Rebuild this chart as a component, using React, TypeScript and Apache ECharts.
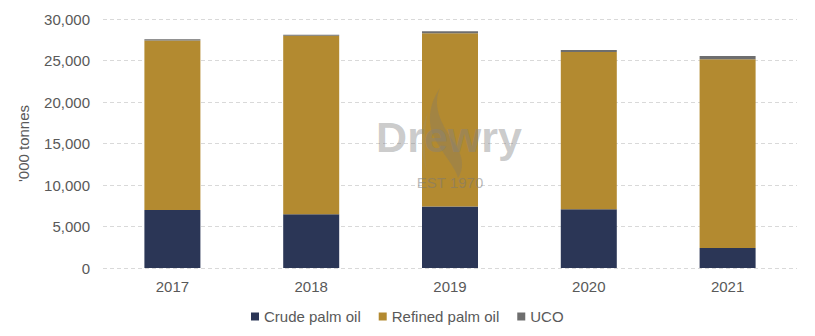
import React, { useEffect, useRef } from "react";
import * as echarts from "echarts";

const categories = ["2017", "2018", "2019", "2020", "2021"];
const crudePalmOil = [7000, 6480, 7400, 7080, 2410];
const refinedPalmOil = [20400, 21510, 20870, 18940, 22730];
const uco = [150, 100, 250, 250, 400];
const yTicks = { min: 0, max: 30000, interval: 5000 };

const FONT = "'Liberation Sans', Arial, Helvetica, sans-serif";
const TEXT = "#595959";

const flameD =
  "M440 88 C431 108 444 128 455 144 C465 159 463 171 458 178 C455 166 441 152 434 137 C426 119 431 101 440 88 Z";
const flameD2 =
  "M428 112 C420 128 420 152 427 172 C424 152 424 130 428 112 Z";

let registered = false;
function registerShapes() {
  if (registered) return;
  echarts.graphic.registerShape("flame", echarts.graphic.extendPath(flameD, {}));
  echarts.graphic.registerShape("flame2", echarts.graphic.extendPath(flameD2, {}));
  registered = true;
}

export default function App() {
  const ref = useRef<HTMLDivElement>(null);
  useEffect(() => {
    if (!ref.current) return;
    registerShapes();
    const chart = echarts.init(ref.current, null, { renderer: "svg" });
    chart.setOption({
      animation: false,
      backgroundColor: "#ffffff",
      grid: { left: 103, right: 18, top: 19, bottom: 68, containLabel: false },
      legend: {
        left: 246,
        top: 304,
        icon: "rect",
        itemWidth: 8,
        itemHeight: 8,
        itemGap: 18,
        textStyle: { fontFamily: FONT, fontSize: 15, color: TEXT },
        data: ["Crude palm oil", "Refined palm oil", "UCO"],
      },
      xAxis: {
        type: "category",
        data: categories,
        axisLine: { show: false },
        axisTick: { show: false },
        axisLabel: { fontFamily: FONT, fontSize: 15, color: TEXT, margin: 11 },
      },
      yAxis: {
        type: "value",
        min: yTicks.min,
        max: yTicks.max,
        interval: yTicks.interval,
        name: "'000 tonnes",
        nameLocation: "middle",
        nameGap: 72,
        nameTextStyle: { fontFamily: FONT, fontSize: 15, color: TEXT },
        axisLine: { show: false },
        axisTick: { show: false },
        axisLabel: {
          fontFamily: FONT,
          fontSize: 15,
          color: TEXT,
          margin: 13,
          formatter: (v: number) => v.toLocaleString("en-US"),
        },
        splitLine: {
          lineStyle: { color: "#D9D9D9", width: 1, type: [4, 3] },
        },
      },
      series: [
        {
          name: "Crude palm oil",
          type: "bar",
          stack: "total",
          barWidth: 56,
          data: crudePalmOil,
          itemStyle: { color: "#2B3656" },
        },
        {
          name: "Refined palm oil",
          type: "bar",
          stack: "total",
          barWidth: 56,
          data: refinedPalmOil,
          itemStyle: { color: "#B38A30" },
        },
        {
          name: "UCO",
          type: "bar",
          stack: "total",
          barWidth: 56,
          data: uco,
          itemStyle: { color: "#6E6E6E" },
        },
      ],
      graphic: [
        {
          type: "flame",
          x: 0,
          y: 0,
          z: 100,
          silent: true,
          style: { fill: "rgba(120,120,120,0.28)" },
        },
        {
          type: "flame2",
          x: 0,
          y: 0,
          z: 100,
          silent: true,
          style: { fill: "rgba(150,150,150,0.18)" },
        },
        {
          type: "text",
          x: 449,
          y: 137,
          z: 101,
          silent: true,
          style: {
            text: "Drewry",
            font: `bold 43px ${FONT}`,
            fill: "rgba(130,130,130,0.42)",
            align: "center",
            verticalAlign: "middle",
          },
        },
        {
          type: "text",
          x: 450,
          y: 182,
          z: 101,
          silent: true,
          style: {
            text: "EST 1970",
            font: `15px ${FONT}`,
            fill: "rgba(120,120,120,0.5)",
            align: "center",
            verticalAlign: "middle",
          },
        },
      ],
    });
    return () => chart.dispose();
  }, []);
  return (
    <div
      ref={ref}
      style={{ position: "fixed", left: 0, top: 0, width: 815, height: 336 }}
    />
  );
}
